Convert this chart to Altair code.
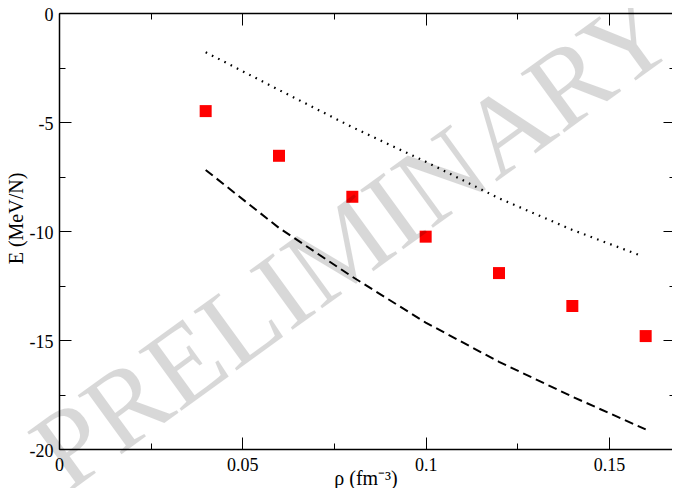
import altair as alt
import pandas as pd

# ---- data ----
rho_pts = [0.04, 0.06, 0.08, 0.10, 0.12, 0.14, 0.16]
E_pts = [-4.50, -6.55, -8.43, -10.26, -11.93, -13.44, -14.82]

rho_dot = [0.04, 0.06, 0.08, 0.10, 0.12, 0.14, 0.159]
E_dot = [-1.80, -3.53, -5.24, -6.82, -8.50, -9.95, -11.15]

rho_dash = [0.04, 0.06, 0.08, 0.10, 0.12, 0.14, 0.16]
E_dash = [-7.20, -9.86, -12.10, -14.20, -16.00, -17.60, -19.10]

x_major = [0, 0.05, 0.1, 0.15]
x_minor = [0.025, 0.075, 0.125]
y_major = [0, -5, -10, -15, -20]
y_minor = [-2.5, -7.5, -12.5, -17.5]

watermark = "PRELIMINARY"

W, H = 613, 436
FONT = "Liberation Serif"

pts = pd.DataFrame({"rho": rho_pts, "E": E_pts})
dot = pd.DataFrame({"rho": rho_dot, "E": E_dot})
dash = pd.DataFrame({"rho": rho_dash, "E": E_dash})

xs = alt.Scale(domain=[0, 0.16718], nice=False, zero=False)
ys = alt.Scale(domain=[-20, 0], nice=False, zero=False)


def tick_axis(orient, offset, values, size):
    return alt.Axis(orient=orient, offset=offset, values=values, tickSize=size,
                    ticks=True, labels=False, domain=False, grid=False, title=None,
                    tickColor="black", tickWidth=1)


# layer 1: squares + main axes
ax_x_main = alt.Axis(orient="bottom", values=x_major, labelExpr="'' + datum.value",
                     ticks=False, tickSize=0, domain=True, domainColor="black",
                     domainWidth=1.5, grid=False, labelPadding=7, labelFlush=False,
                     titleBaseline="alphabetic", titleY=35, titleFontSize=20,
                     title="ρ (fm⁻³)")
ax_y_main = alt.Axis(orient="left", values=y_major, labelExpr="'' + datum.value",
                     ticks=False, tickSize=0, domain=True, domainColor="black",
                     domainWidth=1.5, grid=False, labelPadding=6, labelOffset=2,
                     labelFlush=False,
                     titleBaseline="alphabetic", titleX=-37, titleY=205,
                     titleFontSize=20, title="E (MeV/N)")

squares = alt.Chart(pts).mark_square(size=144, color="#ff0000", opacity=1).encode(
    x=alt.X("rho:Q", scale=xs, axis=ax_x_main),
    y=alt.Y("E:Q", scale=ys, axis=ax_y_main),
)

# top border + inward major ticks at top ; left inward major ticks
ax_top = alt.Axis(orient="bottom", offset=-H, values=x_major, tickSize=12, ticks=True,
                  labels=False, domain=True, domainColor="black", domainWidth=1.5,
                  grid=False, title=None, tickColor="black", tickWidth=1)
dotted = alt.Chart(dot).mark_line(color="black", strokeWidth=2.2,
                                  strokeDash=[1.6, 5.4], strokeCap="butt").encode(
    x=alt.X("rho:Q", scale=xs, axis=ax_top),
    y=alt.Y("E:Q", scale=ys, axis=tick_axis("right", -W, y_major, 12)),
)

dashed = alt.Chart(dash).mark_line(color="black", strokeWidth=2,
                                   strokeDash=[9, 5]).encode(
    x=alt.X("rho:Q", scale=xs, axis=tick_axis("bottom", -H, x_minor, 6)),
    y=alt.Y("E:Q", scale=ys, axis=tick_axis("right", -W, y_minor, 6)),
)

# inward ticks at bottom; right-edge ticks (the right frame lies beyond the window)
dummy = alt.Chart(pts).mark_square(size=1, opacity=0).encode(
    x=alt.X("rho:Q", scale=xs, axis=tick_axis("top", -H, x_major, 12)),
    y=alt.Y("E:Q", scale=ys, axis=tick_axis("left", -W, y_major, 9)),
)

mark_wm = alt.Chart(pd.DataFrame({"t": [watermark]})).mark_text(
    font=FONT, fontSize=112, angle=324, align="center", baseline="middle",
    color="black", opacity=0.15,
).encode(
    x=alt.X(datum=0.0807, scale=xs, axis=tick_axis("top", -H, x_minor, 6)),
    y=alt.Y(datum=-10.53, scale=ys, axis=tick_axis("left", -W, y_minor, 3)),
    text="t:N",
)

chart = alt.layer(squares, dotted, dashed, dummy, mark_wm).resolve_axis(
    x="independent", y="independent"
).properties(
    width=W, height=H,
    autosize=alt.AutoSizeParams(type="none"),
    padding={"left": 51, "top": 5, "right": 0, "bottom": 39},
    background="white",
).configure_view(stroke="transparent").configure_axis(
    labelFont=FONT, labelFontSize=18, labelColor="black",
    titleFont=FONT, titleColor="black", titleFontWeight="normal",
)

chart.save("out.html", embed_options={"renderer": "svg", "actions": False})
